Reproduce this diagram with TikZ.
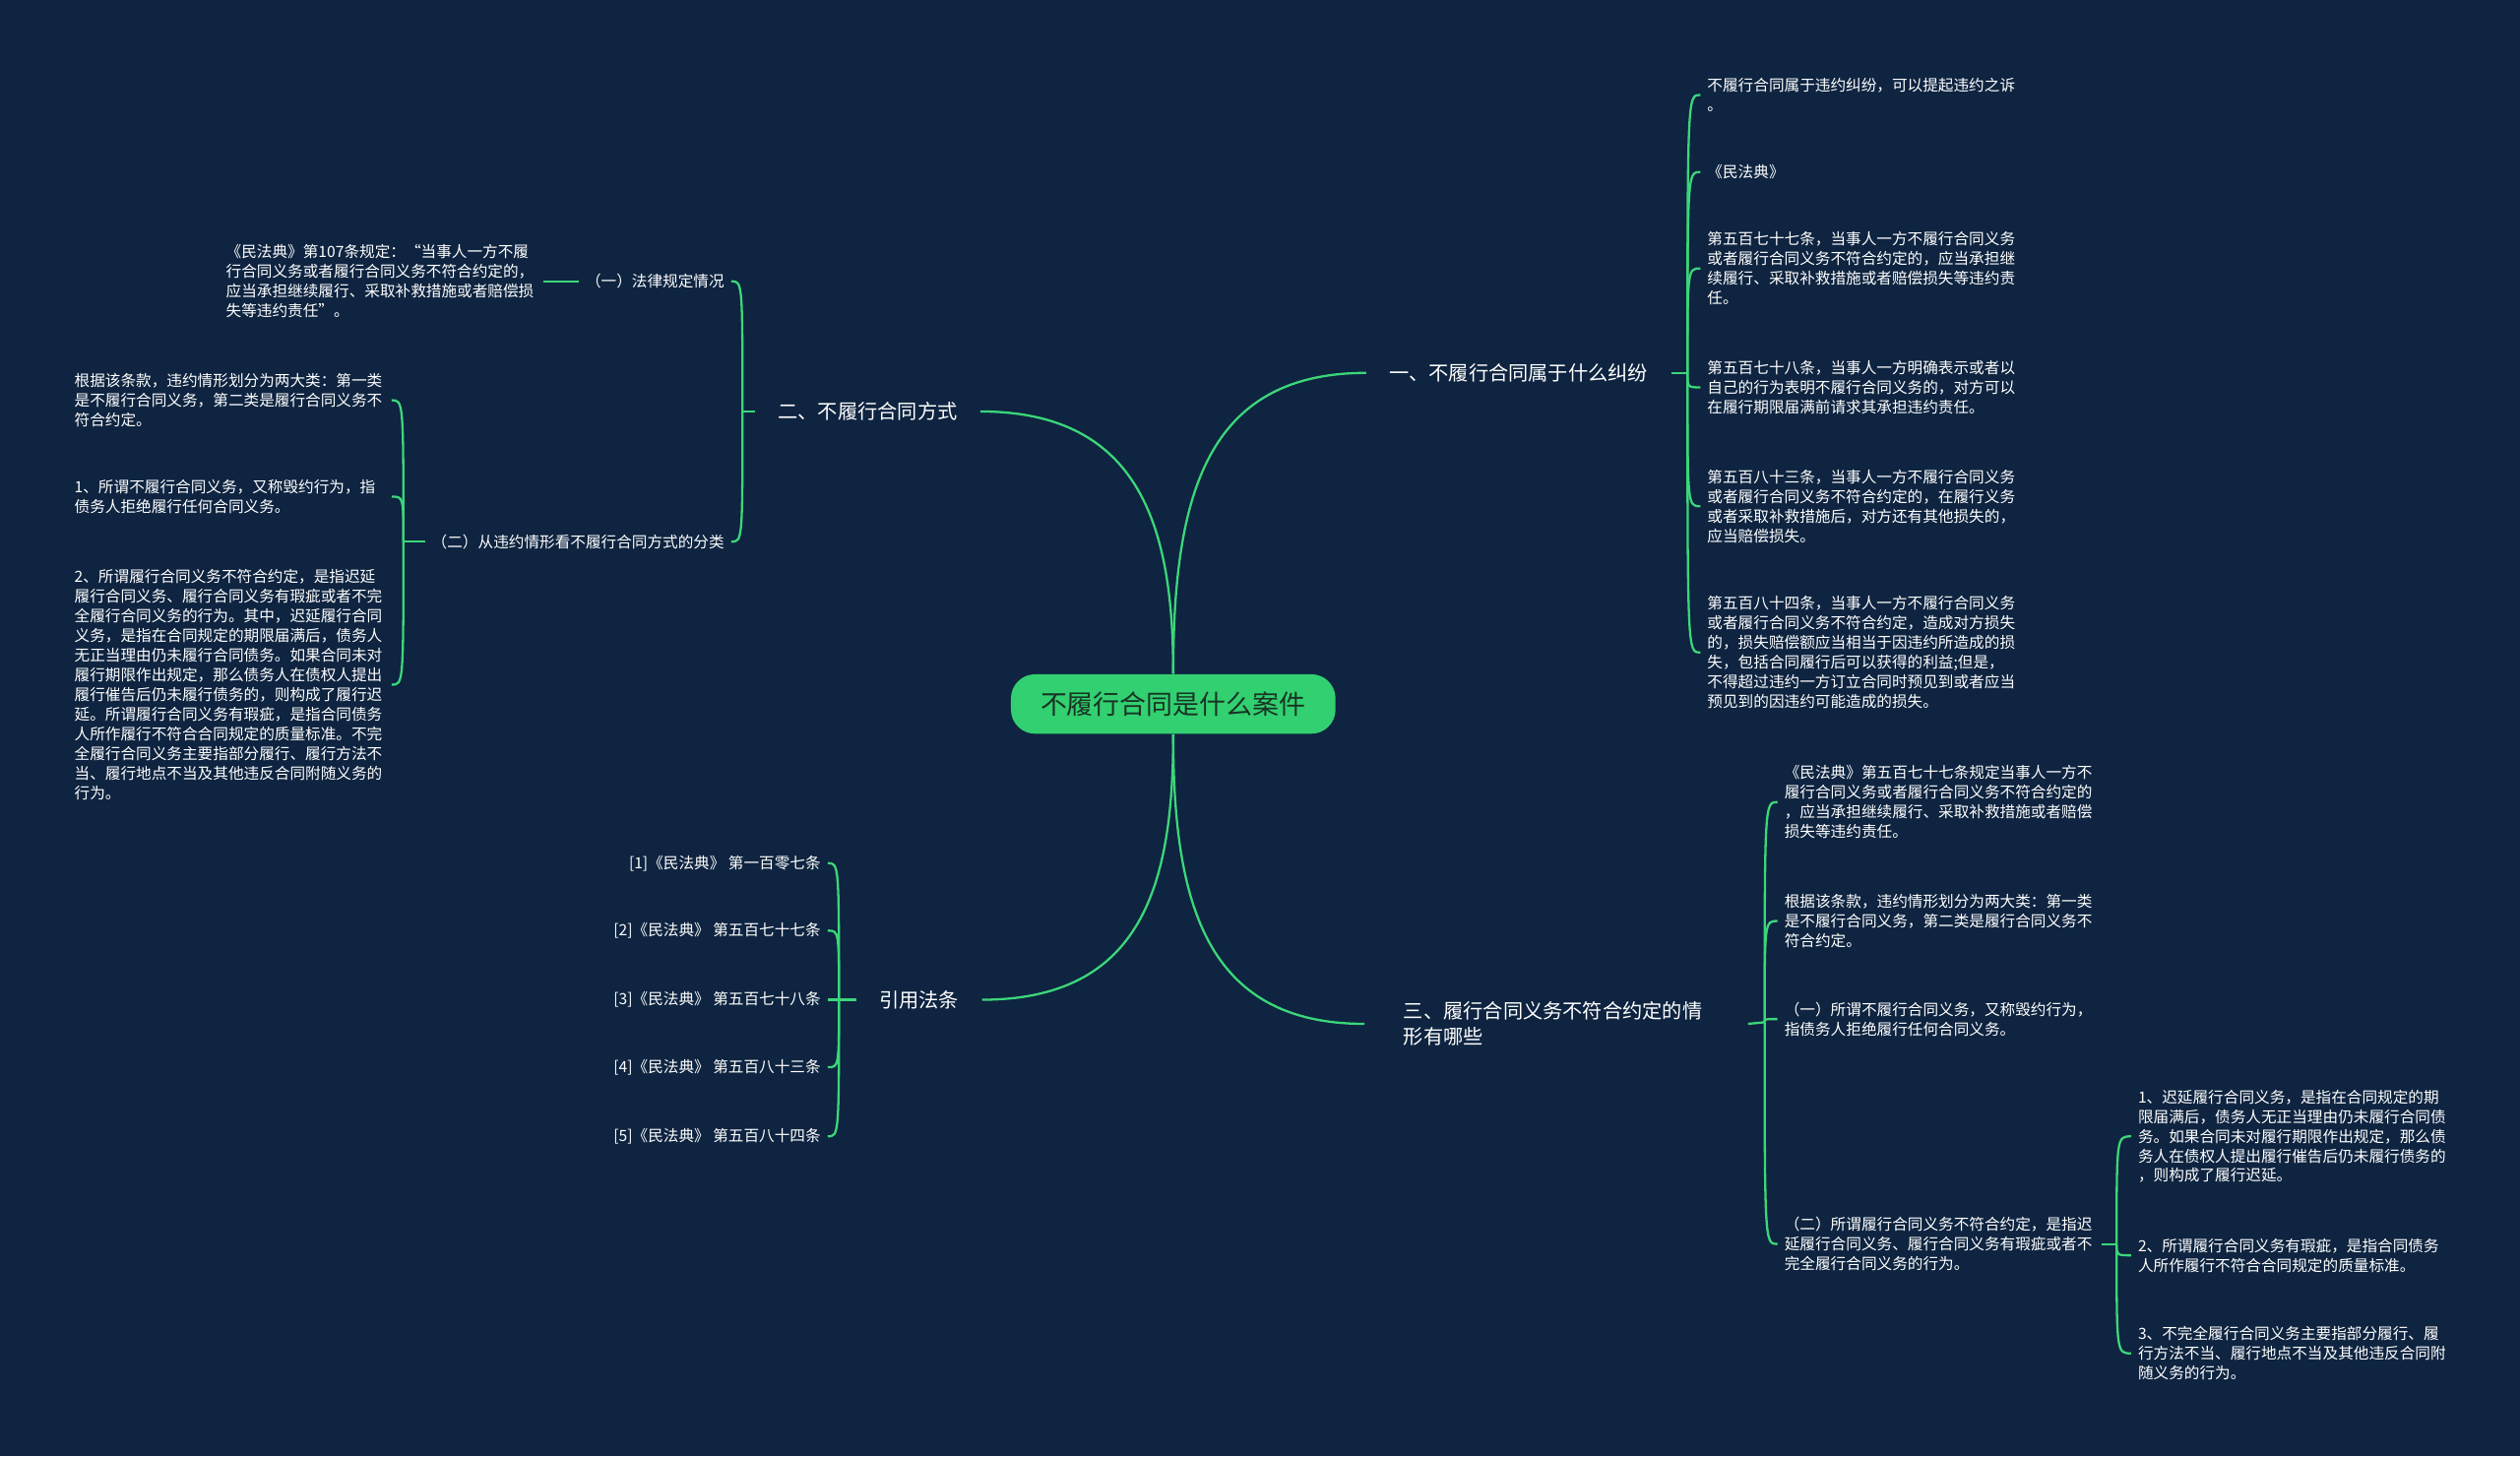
\documentclass[tikz,border=0pt]{standalone}
\usepackage{fontspec}
\setmainfont{Noto Sans CJK SC}
\usetikzlibrary{calc}
\definecolor{bgcolor}{RGB}{14,36,64}
\definecolor{linkcolor}{RGB}{60,214,122}
\definecolor{rootcolor}{RGB}{50,208,112}
\definecolor{roottext}{RGB}{24,52,36}
\tikzset{
  root/.style={rectangle, rounded corners=0.3cm, fill=rootcolor, text=roottext,
               minimum width=4.04cm, minimum height=0.74cm,
               font={\fontsize{9.4}{11}\selectfont}},
  topic/.style={text=white, align=left, inner xsep=0.28cm, inner ysep=0.06cm,
                font={\fontsize{7.05}{9.1}\selectfont}},
  leaf/.style={text=white, align=left, inner xsep=0.08cm, inner ysep=0.04cm,
               font={\fontsize{5.45}{6.95}\selectfont}},
  block/.style={leaf, text width=3.86cm},
  link/.style={draw=linkcolor, line width=0.8pt},
}

\begin{document}
\begin{tikzpicture}[x=0.02cm, y=-0.02cm]
  % Background
  \fill[bgcolor] (0,0) rectangle (1568,906);
  \useasboundingbox (0,0) rectangle (1568,906);

  % Root
  \node[root] (root) at (730,438) {不履行合同是什么案件};

  % Main topics
  \node[topic, anchor=west] (one) at (850,232) {一、不履行合同属于什么纠纷};
  \node[topic, anchor=east] (two) at (610,256) {二、不履行合同方式};
  \node[topic, anchor=east] (cite) at (611,622) {引用法条};
  \node[topic, anchor=west, text width=3.8cm, inner xsep=0.48cm] (three) at (849,637)
    {三、履行合同义务不符合约定的情\\形有哪些};

  \draw[link] (root.north) .. controls +(0,-110) and +(-100,0) .. (one.west);
  \draw[link] (root.north) .. controls +(0,-90) and +(100,0) .. (two.east);
  \draw[link] (root.south) .. controls +(0,93) and +(100,0) .. (cite.east);
  \draw[link] (root.south) .. controls +(0,103) and +(-100,0) .. (three.west);

  % Topic one
  \node[block, anchor=west] (a1) at (1058,59) {不履行合同属于违约纠纷，可以提起违约之诉\\。};
  \node[leaf, anchor=west] (a2) at (1058,107) {《民法典》};
  \node[block, anchor=west] (a3) at (1058,167) {第五百七十七条，当事人一方不履行合同义务\\或者履行合同义务不符合约定的，应当承担继\\续履行、采取补救措施或者赔偿损失等违约责\\任。};
  \node[block, anchor=west] (a4) at (1058,241) {第五百七十八条，当事人一方明确表示或者以\\自己的行为表明不履行合同义务的，对方可以\\在履行期限届满前请求其承担违约责任。};
  \node[block, anchor=west] (a5) at (1058,315) {第五百八十三条，当事人一方不履行合同义务\\或者履行合同义务不符合约定的，在履行义务\\或者采取补救措施后，对方还有其他损失的，\\应当赔偿损失。};
  \node[block, anchor=west] (a6) at (1058,406) {第五百八十四条，当事人一方不履行合同义务\\或者履行合同义务不符合约定，造成对方损失\\的，损失赔偿额应当相当于因违约所造成的损\\失，包括合同履行后可以获得的利益;但是，\\不得超过违约一方订立合同时预见到或者应当\\预见到的因违约可能造成的损失。};

  \coordinate (hubone) at (1050,232);
  \draw[link] (one.east) -- (hubone);
  \foreach \n in {a1,a2,a3,a4,a5,a6}
    \draw[link] (hubone) .. controls (hubone |- \n.west) .. (\n.west);

  % Topic two
  \node[leaf, anchor=east] (b1) at (455,175) {（一）法律规定情况};
  \node[leaf, anchor=east] (b2) at (455,337) {（二）从违约情形看不履行合同方式的分类};
  \node[block, anchor=east] (c1) at (338,175) {《民法典》第107条规定：“当事人一方不履\\行合同义务或者履行合同义务不符合约定的，\\应当承担继续履行、采取补救措施或者赔偿损\\失等违约责任”。};
  \node[block, anchor=west] (d1) at (42,249) {根据该条款，违约情形划分为两大类：第一类\\是不履行合同义务，第二类是履行合同义务不\\符合约定。};
  \node[block, anchor=west] (d2) at (42,309) {1、所谓不履行合同义务，又称毁约行为，指\\债务人拒绝履行任何合同义务。};
  \node[block, anchor=west] (d3) at (42,426) {2、所谓履行合同义务不符合约定，是指迟延\\履行合同义务、履行合同义务有瑕疵或者不完\\全履行合同义务的行为。其中，迟延履行合同\\义务，是指在合同规定的期限届满后，债务人\\无正当理由仍未履行合同债务。如果合同未对\\履行期限作出规定，那么债务人在债权人提出\\履行催告后仍未履行债务的，则构成了履行迟\\延。所谓履行合同义务有瑕疵，是指合同债务\\人所作履行不符合合同规定的质量标准。不完\\全履行合同义务主要指部分履行、履行方法不\\当、履行地点不当及其他违反合同附随义务的\\行为。};

  \coordinate (hubtwo) at (462,256);
  \draw[link] (two.west) -- (hubtwo);
  \foreach \n in {b1,b2}
    \draw[link] (hubtwo) .. controls (hubtwo |- \n.east) .. (\n.east);
  \draw[link] (b1.west) -- (c1.east);
  \coordinate (hubsplit) at (251,337);
  \draw[link] (b2.west) -- (hubsplit);
  \foreach \n in {d1,d2,d3}
    \draw[link] (hubsplit) .. controls (hubsplit |- \n.east) .. (\n.east);

  % Cited articles
  \node[leaf, anchor=east] (e1) at (515,537) {[1]《民法典》 第一百零七条};
  \node[leaf, anchor=east] (e2) at (515,579) {[2]《民法典》 第五百七十七条};
  \node[leaf, anchor=east] (e3) at (515,622) {[3]《民法典》 第五百七十八条};
  \node[leaf, anchor=east] (e4) at (515,664) {[4]《民法典》 第五百八十三条};
  \node[leaf, anchor=east] (e5) at (515,707) {[5]《民法典》 第五百八十四条};

  \coordinate (hubcite) at (522,622);
  \draw[link] (cite.west) -- (hubcite);
  \foreach \n in {e1,e2,e3,e4,e5}
    \draw[link] (hubcite) .. controls (hubcite |- \n.east) .. (\n.east);

  % Topic three
  \node[block, anchor=west] (f1) at (1106,499) {《民法典》第五百七十七条规定当事人一方不\\履行合同义务或者履行合同义务不符合约定的\\，应当承担继续履行、采取补救措施或者赔偿\\损失等违约责任。};
  \node[block, anchor=west] (f2) at (1106,573) {根据该条款，违约情形划分为两大类：第一类\\是不履行合同义务，第二类是履行合同义务不\\符合约定。};
  \node[block, anchor=west] (f3) at (1106,634) {（一）所谓不履行合同义务，又称毁约行为，\\指债务人拒绝履行任何合同义务。};
  \node[block, anchor=west] (f4) at (1106,774) {（二）所谓履行合同义务不符合约定，是指迟\\延履行合同义务、履行合同义务有瑕疵或者不\\完全履行合同义务的行为。};
  \node[block, anchor=west] (g1) at (1326,707) {1、迟延履行合同义务，是指在合同规定的期\\限届满后，债务人无正当理由仍未履行合同债\\务。如果合同未对履行期限作出规定，那么债\\务人在债权人提出履行催告后仍未履行债务的\\，则构成了履行迟延。};
  \node[block, anchor=west] (g2) at (1326,781) {2、所谓履行合同义务有瑕疵，是指合同债务\\人所作履行不符合合同规定的质量标准。};
  \node[block, anchor=west] (g3) at (1326,842) {3、不完全履行合同义务主要指部分履行、履\\行方法不当、履行地点不当及其他违反合同附\\随义务的行为。};

  \coordinate (hubthree) at (1098,636);
  \draw[link] (three.east) -- (hubthree);
  \foreach \n in {f1,f2,f3,f4}
    \draw[link] (hubthree) .. controls (hubthree |- \n.west) .. (\n.west);
  \coordinate (hubkinds) at (1317,774);
  \draw[link] (f4.east) -- (hubkinds);
  \foreach \n in {g1,g2,g3}
    \draw[link] (hubkinds) .. controls (hubkinds |- \n.west) .. (\n.west);

\end{tikzpicture}
\end{document}
